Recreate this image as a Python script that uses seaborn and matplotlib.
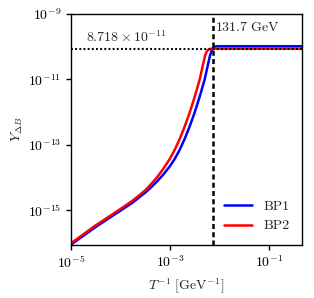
import matplotlib
matplotlib.use("Agg")
import matplotlib.pyplot as plt
import numpy as np
import pandas as pd
import seaborn as sns

# values (log10 of T^-1 and of Y_dB)
bp1_logx = [-5.00, -4.50, -4.00, -3.75, -3.50, -3.375, -3.25, -3.125, -3.00, -2.90, -2.80, -2.70, -2.60,
            -2.50, -2.40, -2.30, -2.26, -2.22, -2.19, -2.16, -2.13, -2.09, -2.04, -1.00, -0.30]
bp1_logy = [-16.06, -15.52, -15.02, -14.77, -14.47, -14.30, -14.11, -13.90, -13.66, -13.43, -13.15, -12.82, -12.44,
            -12.02, -11.54, -11.02, -10.75, -10.48, -10.28, -10.14, -10.05, -10.00, -9.987, -9.987, -9.987]
bp2_logx = [-5.00, -4.50, -4.00, -3.75, -3.50, -3.375, -3.25, -3.125, -3.00, -2.90, -2.80, -2.70, -2.60,
            -2.50, -2.40, -2.36, -2.32, -2.29, -2.26, -2.23, -2.19, -2.14, -1.00, -0.30]
bp2_logy = [-16.02, -15.47, -14.97, -14.71, -14.40, -14.20, -13.98, -13.72, -13.43, -13.15, -12.82, -12.44, -12.02,
            -11.54, -11.02, -10.75, -10.48, -10.28, -10.16, -10.10, -10.07, -10.06, -10.06, -10.06]
series = ["BP1", "BP2"]
colors = ["#0000ff", "#ff0000"]
y_plateau = 8.718e-11
T_ew = 131.7

df = pd.concat([
    pd.DataFrame({"x": 10.0 ** np.array(bp1_logx), "y": 10.0 ** np.array(bp1_logy), "bp": "BP1"}),
    pd.DataFrame({"x": 10.0 ** np.array(bp2_logx), "y": 10.0 ** np.array(bp2_logy), "bp": "BP2"}),
])

sns.set_theme(style="ticks")
plt.rcParams.update({
    "font.family": "serif",
    "font.serif": ["cmr10"],
    "mathtext.fontset": "cm",
    "axes.formatter.use_mathtext": True,
    "axes.unicode_minus": False,
    "font.size": 10,
    "axes.edgecolor": "black",
    "axes.linewidth": 1.0,
})

fig = plt.figure(figsize=(3.14, 2.98), dpi=100)
ax = fig.add_axes([0.226, 0.178, 0.736, 0.775])

sns.lineplot(data=df, x="x", y="y", hue="bp", palette=dict(zip(series, colors)),
             estimator=None, sort=False, lw=1.8, ax=ax)
ax.set_xscale("log")
ax.set_yscale("log")
ax.set_xlim(1e-5, 0.47)
ax.set_ylim(8.5e-17, 1e-9)

ax.axhline(y_plateau, color="black", ls=(0, (0.9, 1.1)), lw=1.5, zorder=3)
ax.axvline(1 / T_ew, color="black", ls=(0, (2.0, 1.3)), lw=1.8, zorder=3)
ax.text(2.0e-5, 1.15e-10, r"$8.718\times10^{-11}$", fontsize=10, va="bottom", ha="left")
ax.text(1 / T_ew * 1.07, 4.0e-10, r"$131.7\ \mathrm{GeV}$", fontsize=10, va="center", ha="left")

ax.set_xticks([1e-5, 1e-3, 1e-1])
ax.set_yticks([1e-9, 1e-11, 1e-13, 1e-15])
ax.minorticks_off()
ax.tick_params(direction="out", length=3.5, width=1.0, colors="black", labelsize=10, top=False, right=False)
ax.set_xlabel(r"$T^{-1}\ [\mathrm{GeV}^{-1}]$", fontsize=10)
ax.set_ylabel(r"$Y_{\Delta B}$", fontsize=10, labelpad=2)
ax.legend(loc="lower right", frameon=False, fontsize=10, handlelength=2.0)

fig.savefig("out.png", dpi=100)
